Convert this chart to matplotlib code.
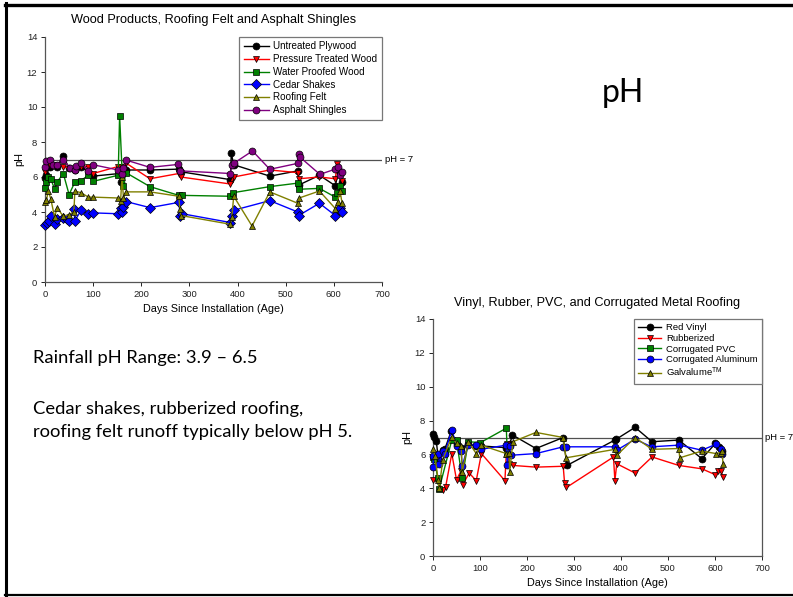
import matplotlib
matplotlib.use("Agg")
import matplotlib.pyplot as plt
import matplotlib.transforms as mtransforms
from matplotlib.lines import Line2D

plt.rcParams['font.family'] = ['Liberation Sans', 'DejaVu Sans']
plt.rcParams['mathtext.fontset'] = 'custom'
plt.rcParams['mathtext.rm'] = 'Liberation Sans'

# ---- top chart: wood products, roofing felt, asphalt shingles ----
plywood_days = [0, 3, 10, 25, 38, 50, 62, 75, 100, 155, 158, 162, 168, 218, 278, 282,
                385, 387, 392, 467, 525, 528, 570, 603, 610, 616]
plywood_ph = [5.95, 6.1, 6.6, 6.6, 7.2, 6.5, 6.4, 6.6, 6.05, 6.2, 5.7, 6.55, 6.4, 6.4, 6.45, 6.3,
              5.85, 7.35, 6.7, 6.05, 6.35, 5.55, 6.1, 5.5, 6.35, 5.7]

treated_days = [0, 3, 10, 20, 38, 62, 75, 90, 100, 152, 160, 168, 218, 278, 282, 385, 392,
                467, 525, 527, 570, 603, 607, 613, 617]
treated_ph = [6.3, 6.5, 6.7, 6.7, 6.6, 6.4, 6.6, 6.6, 6.2, 6.6, 6.6, 6.8, 5.9, 6.2, 6.0, 5.6, 6.0,
              6.4, 6.25, 5.9, 6.0, 5.9, 6.75, 6.0, 5.8]

waterproof_days = [0, 3, 7, 12, 20, 25, 38, 50, 62, 75, 90, 100, 152, 155, 160, 163, 168, 218,
                   278, 285, 385, 390, 467, 525, 528, 570, 603, 607, 613, 617]
waterproof_ph = [5.4, 5.7, 6.0, 5.9, 5.3, 5.7, 6.2, 5.0, 5.7, 5.8, 6.1, 5.75, 6.1, 9.5, 6.4, 5.5,
                 6.25, 5.45, 4.95, 4.95, 4.9, 5.1, 5.45, 5.65, 5.3, 5.35, 4.85, 5.1, 5.5, 5.2]

cedar_days = [0, 5, 8, 12, 20, 25, 38, 45, 50, 60, 62, 75, 90, 100, 152, 157, 160, 163, 168,
              218, 278, 281, 285, 385, 388, 392, 467, 525, 527, 570, 603, 610, 613, 617]
cedar_ph = [3.25, 3.35, 3.5, 3.75, 3.3, 3.6, 3.65, 3.6, 3.5, 4.2, 3.5, 4.1, 3.9, 3.95, 3.9, 4.25,
            4.0, 4.3, 4.6, 4.25, 4.55, 3.8, 3.9, 3.4, 3.75, 4.1, 4.65, 4.0, 3.8, 4.5, 3.8, 4.1,
            4.25, 4.0]

felt_days = [0, 3, 7, 12, 20, 25, 38, 50, 60, 62, 75, 90, 100, 152, 157, 160, 163, 168, 218,
             278, 280, 282, 385, 388, 392, 430, 467, 525, 528, 570, 603, 608, 613, 617]
felt_ph = [4.6, 4.7, 5.2, 4.75, 3.7, 4.25, 3.75, 3.85, 4.0, 5.2, 5.1, 4.85, 4.85, 4.8, 4.65, 6.0,
           4.8, 5.15, 5.15, 4.9, 4.2, 3.8, 3.3, 3.7, 4.9, 3.2, 5.15, 4.5, 4.8, 5.2, 4.2, 4.6,
           5.2, 4.5]

asphalt_days = [0, 3, 10, 17, 24, 38, 52, 62, 64, 75, 90, 100, 152, 160, 163, 168, 218, 277,
                281, 385, 388, 392, 431, 467, 525, 527, 529, 571, 603, 608, 613, 617]
asphalt_ph = [6.55, 6.9, 7.0, 6.7, 6.7, 7.0, 6.5, 6.4, 6.65, 6.8, 6.35, 6.7, 6.4, 6.2, 6.5, 6.97,
              6.55, 6.72, 6.35, 6.2, 6.7, 6.78, 7.49, 6.44, 6.78, 7.3, 7.15, 6.15, 6.45, 6.6,
              6.1, 6.3]

# ---- bottom chart: vinyl, rubber, PVC, corrugated metal ----
vinyl_days = [0, 2, 7, 11, 21, 25, 39, 50, 60, 75, 92, 102, 156, 163, 169, 219, 277, 285,
              387, 390, 430, 466, 523, 572, 601, 608, 615]
vinyl_ph = [7.2, 7.05, 6.8, 5.8, 6.25, 6.3, 7.4, 6.6, 6.4, 6.6, 6.5, 6.5, 6.4, 6.6, 7.15, 6.35,
            7.0, 5.35, 6.85, 6.9, 7.6, 6.75, 6.85, 5.75, 6.65, 6.45, 6.2]

rubber_days = [0, 11, 21, 27, 40, 50, 60, 63, 77, 92, 103, 153, 157, 162, 170, 219, 277, 280,
               284, 384, 387, 391, 430, 466, 523, 572, 601, 607, 613, 616]
rubber_ph = [4.5, 4.4, 3.9, 4.1, 6.05, 4.5, 5.05, 4.2, 4.9, 4.45, 6.05, 4.45, 6.6, 5.45, 5.35,
             5.25, 5.3, 4.3, 4.05, 5.85, 4.45, 5.45, 4.9, 5.85, 5.35, 5.15, 4.8, 5.05, 5.05, 4.65]

pvc_days = [0, 3, 10, 13, 40, 50, 62, 75, 101, 156, 158]
pvc_ph = [5.85, 5.75, 4.6, 3.95, 6.85, 6.85, 4.6, 6.75, 6.7, 7.55, 6.05]

alum_days = [0, 1, 11, 13, 21, 25, 40, 50, 60, 62, 75, 92, 102, 156, 158, 163, 165, 219, 277,
             284, 387, 391, 430, 465, 524, 572, 602, 612, 615]
alum_ph = [5.25, 5.9, 6.05, 5.45, 6.2, 6.05, 7.45, 6.5, 6.2, 5.3, 6.55, 6.55, 6.3, 6.55, 5.4,
           6.5, 5.95, 6.05, 6.45, 6.45, 6.45, 6.25, 6.9, 6.45, 6.55, 6.25, 6.6, 6.3, 6.05]

galv_days = [0, 4, 11, 13, 21, 40, 50, 60, 62, 75, 92, 102, 156, 162, 163, 170, 219, 277, 283,
             387, 391, 430, 466, 523, 525, 572, 602, 612, 615, 617]
galv_ph = [6.35, 5.9, 4.5, 4.0, 5.7, 7.05, 6.65, 6.5, 4.95, 6.75, 6.05, 6.55, 6.05, 6.1, 4.95,
           6.75, 7.3, 7.0, 5.8, 6.3, 5.95, 7.0, 6.3, 6.35, 5.8, 6.2, 6.05, 6.1, 6.2, 5.45]

W, H = 793, 597
fig = plt.figure(figsize=(W / 100, H / 100), dpi=100)


def px_axes(left, top, right, bottom):
    return fig.add_axes([left / W, 1 - bottom / H, (right - left) / W, (bottom - top) / H])


def draw_panel(ax, series, right_spine, leg_size, leg_spacing):
    for days, ph, label, color, marker in series:
        ax.plot(days, ph, color=color, lw=1, marker=marker, ms=5, mfc=color,
                mec='black', mew=0.5, label=label, clip_on=False, zorder=3)
    ax.axhline(7, color='#505050', lw=0.9, zorder=2)
    trans = mtransforms.blended_transform_factory(ax.transAxes, ax.transData)
    ax.text(1.008, 7, 'pH = 7', transform=trans, fontsize=6.8, va='center', ha='left')
    ax.set_xlim(0, 700)
    ax.set_ylim(0, 14)
    ax.set_xticks(range(0, 701, 100))
    ax.set_yticks(range(0, 15, 2))
    ax.tick_params(direction='out', length=3, width=0.7, labelsize=6.8, pad=2.5,
                   colors='#222222')
    ax.spines['top'].set_visible(False)
    ax.spines['right'].set_visible(right_spine)
    for s in ['left', 'bottom', 'right']:
        ax.spines[s].set_color('#555555')
        ax.spines[s].set_linewidth(0.9)
    ax.set_xlabel('Days Since Installation (Age)', fontsize=7.8, labelpad=3.5)
    ax.set_ylabel('pH', fontsize=7.8, labelpad=2)
    leg = ax.legend(loc='upper right', bbox_to_anchor=(1.0, 1.0), borderaxespad=0,
                    fontsize=leg_size, frameon=True, fancybox=False, framealpha=1,
                    edgecolor='#777777', handlelength=2.5, handletextpad=0.5,
                    labelspacing=leg_spacing, borderpad=0.45)
    leg.get_frame().set_linewidth(0.9)


ax1 = px_axes(45, 37, 382, 282)
draw_panel(ax1, [
    (plywood_days, plywood_ph, 'Untreated Plywood', 'black', 'o'),
    (treated_days, treated_ph, 'Pressure Treated Wood', '#ff0000', 'v'),
    (waterproof_days, waterproof_ph, 'Water Proofed Wood', '#008000', 's'),
    (cedar_days, cedar_ph, 'Cedar Shakes', '#0000ff', 'D'),
    (felt_days, felt_ph, 'Roofing Felt', '#808000', '^'),
    (asphalt_days, asphalt_ph, 'Asphalt Shingles', '#800080', 'o'),
], right_spine=False, leg_size=7.1, leg_spacing=0.28)
fig.text(214 / W, 1 - 20 / H, 'Wood Products, Roofing Felt and Asphalt Shingles',
         fontsize=9.2, ha='center', va='center')

ax2 = px_axes(433, 319, 762, 556)
draw_panel(ax2, [
    (vinyl_days, vinyl_ph, 'Red Vinyl', 'black', 'o'),
    (rubber_days, rubber_ph, 'Rubberized', '#ff0000', 'v'),
    (pvc_days, pvc_ph, 'Corrugated PVC', '#008000', 's'),
    (alum_days, alum_ph, 'Corrugated Aluminum', '#0000ff', 'o'),
    (galv_days, galv_ph, 'Galvalume$^{\\mathrm{TM}}$', '#808000', '^'),
], right_spine=True, leg_size=6.8, leg_spacing=0.18)
fig.text(597 / W, 1 - 303 / H, 'Vinyl, Rubber, PVC, and Corrugated Metal Roofing',
         fontsize=9.2, ha='center', va='center')

# slide text
fig.text(602 / W, 1 - 102 / H, 'pH', fontsize=23, family='Lato', va='baseline')
fig.text(33 / W, 1 - 363 / H, 'Rainfall pH Range: 3.9 \u2013 6.5', fontsize=13.2,
         family='Lato', va='baseline')
fig.text(33 / W, 1 - 414 / H, 'Cedar shakes, rubberized roofing,', fontsize=13.2,
         family='Lato', va='baseline')
fig.text(33 / W, 1 - 437 / H, 'roofing felt runoff typically below pH 5.', fontsize=13.2,
         family='Lato', va='baseline')

# slide frame
fig.add_artist(Line2D([6 / W, 6 / W], [1 - 3 / H, 1 - 595 / H], color='black', lw=2.2,
                      transform=fig.transFigure))
fig.add_artist(Line2D([5 / W, 1], [1 - 4.5 / H, 1 - 4.5 / H], color='black', lw=2.4,
                      transform=fig.transFigure))
fig.add_artist(Line2D([5 / W, 1], [1 - 595 / H, 1 - 595 / H], color='black', lw=1.6,
                      transform=fig.transFigure))

fig.savefig('out.png', dpi=100)
